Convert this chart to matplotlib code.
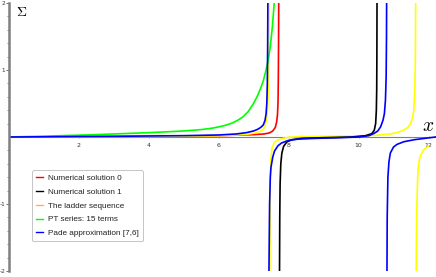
import matplotlib
matplotlib.use("Agg")
import matplotlib.pyplot as plt
from matplotlib.lines import Line2D

plt.rcParams["mathtext.fontset"] = "cm"

# ---- data (x, y samples per branch) ----
red_x = [0, 2, 4, 6, 7, 7.3, 7.45, 7.55, 7.62, 7.66, 7.685, 7.7, 7.71, 7.717, 7.722]
red_y = [0, 0.004, 0.01, 0.02, 0.035, 0.045, 0.06, 0.09, 0.14, 0.22, 0.33, 0.5, 0.9, 1.5, 2.2]

black_x = [7.742, 7.75, 7.76, 7.78, 7.81, 7.86, 7.95, 8.1, 8.4, 9.0, 9.8, 10.2, 10.38, 10.45, 10.49, 10.51, 10.52, 10.525, 10.53]
black_y = [-2.2, -1.2, -0.7, -0.4, -0.24, -0.14, -0.075, -0.04, -0.02, -0.01, 0.0, 0.02, 0.05, 0.1, 0.2, 0.4, 0.7, 1.2, 2.2]

ladder1_x = [0, 2, 4, 5, 6, 6.5, 6.8, 7.0, 7.15, 7.25, 7.32, 7.37, 7.4, 7.43, 7.45, 7.456]
ladder1_y = [0, 0.003, 0.008, 0.012, 0.02, 0.03, 0.04, 0.055, 0.075, 0.1, 0.15, 0.25, 0.4, 0.8, 1.5, 2.2]
ladder2_x = [7.466, 7.472, 7.48, 7.5, 7.53, 7.6, 7.7, 7.85, 8.0, 8.3, 9.0, 10.0, 10.5, 10.9, 11.1, 11.28, 11.4, 11.48, 11.54, 11.58, 11.61, 11.625, 11.635]
ladder2_y = [-2.2, -1.0, -0.6, -0.3, -0.16, -0.08, -0.045, -0.02, -0.005, 0.005, 0.01, 0.015, 0.025, 0.045, 0.065, 0.1, 0.14, 0.19, 0.28, 0.4, 0.7, 1.2, 2.2]
ladder3_x = [11.645, 11.66, 11.69, 11.72, 11.76, 11.85, 11.93, 12.0]
ladder3_y = [-2.2, -1.2, -0.6, -0.4, -0.29, -0.2, -0.16, -0.14]

pt_x = [0, 1, 1.5, 2, 2.5, 3, 3.5, 4, 4.5, 5, 5.5, 5.8, 6, 6.2, 6.4, 6.55, 6.7, 6.85, 7.0, 7.1, 7.2, 7.28, 7.35, 7.42, 7.48, 7.54, 7.6]
pt_y = [0, 0.012, 0.02, 0.027, 0.036, 0.045, 0.055, 0.065, 0.077, 0.09, 0.11, 0.13, 0.15, 0.175, 0.21, 0.25, 0.3, 0.38, 0.5, 0.6, 0.72, 0.84, 0.98, 1.15, 1.35, 1.65, 2.05]

pade1_x = [0, 1, 2, 3, 4, 5, 5.5, 6, 6.5, 6.8, 7.0, 7.1, 7.2, 7.28, 7.33, 7.36, 7.38, 7.395, 7.405, 7.412]
pade1_y = [0, 0.003, 0.007, 0.01, 0.015, 0.02, 0.025, 0.03, 0.045, 0.065, 0.09, 0.11, 0.14, 0.18, 0.25, 0.35, 0.5, 0.8, 1.4, 2.2]
pade2_x = [7.432, 7.445, 7.46, 7.48, 7.5, 7.55, 7.6, 7.7, 7.8, 8.0, 8.3, 8.8, 9.5, 10.0, 10.3, 10.45, 10.55, 10.63, 10.7, 10.74, 10.77, 10.79, 10.8, 10.805]
pade2_y = [-2.5, -1.8, -1.0, -0.6, -0.45, -0.3, -0.21, -0.13, -0.09, -0.05, -0.03, -0.02, -0.01, 0.0, 0.02, 0.055, 0.09, 0.15, 0.25, 0.35, 0.55, 0.9, 1.5, 2.2]
pade3_x = [10.812, 10.82, 10.84, 10.87, 10.91, 11.0, 11.1, 11.3, 11.6, 11.9, 12.2]
pade3_y = [-2.2, -1.2, -0.6, -0.37, -0.24, -0.15, -0.11, -0.07, -0.04, -0.02, 0.0]

labels = ["Numerical solution 0", "Numerical solution 1", "The ladder sequence",
          "PT series: 15 terms", "Pade approximation [7,6]"]
colors = ["#ff0000", "#000000", "#ffff00", "#00ff00", "#0000ff"]
legend_colors = ["#ff0000", "#000000", "#ffb070", "#00ff00", "#0000ff"]
y_ticks = [-2, -1, 1, 2]
y_tick_labels = ["-2", "-1", "1", "2"]
x_ticks = [2, 4, 6, 8, 10, 12]
x_tick_labels = ["2", "4", "6", "8", "10", "12"]

W, H = 436, 277
fig = plt.figure(figsize=(W / 100, H / 100), dpi=100)
px0 = 8.5
scale = 35.0
ax = fig.add_axes([px0 / W, 6 / H, 1 - px0 / W, 268 / H])
ax.set_xlim(0, (W - px0) / scale)
ax.set_ylim(-2, 2)

lw = 1.2
ax.plot(red_x, red_y, color=colors[0], lw=lw)
for xs, ys in [(ladder1_x, ladder1_y), (ladder2_x, ladder2_y), (ladder3_x, ladder3_y)]:
    ax.plot(xs, ys, color=colors[2], lw=lw)
ax.plot(black_x, black_y, color=colors[1], lw=lw)
ax.plot(pt_x, pt_y, color=colors[3], lw=lw)
for xs, ys in [(pade1_x, pade1_y), (pade2_x, pade2_y), (pade3_x, pade3_y)]:
    ax.plot(xs, ys, color=colors[4], lw=lw)

# axes through origin
for s in ["top", "right"]:
    ax.spines[s].set_visible(False)
ax.spines["left"].set_position(("data", 0))
ax.spines["bottom"].set_position(("data", 0))
ax.spines["left"].set_color("#808080")
ax.spines["left"].set_linewidth(1.8)
ax.spines["bottom"].set_color("#808080")
ax.spines["bottom"].set_linewidth(0.8)
ax.spines["bottom"].set_zorder(0.5)

ax.set_yticks(y_ticks)
ax.set_yticklabels(y_tick_labels)
ax.set_yticks([v / 5 for v in range(-10, 11) if v % 5 != 0], minor=True)
ax.tick_params(axis="y", which="major", length=2, width=0.6, color="#555555",
               labelsize=4.2, pad=0.3, labelcolor="#333333")
ax.tick_params(axis="y", which="minor", length=1.5, width=0.5, color="#555555")
ax.set_xticks(x_ticks)
ax.set_xticklabels(x_tick_labels)
ax.tick_params(axis="x", which="major", length=2, width=0.5, color="#888888",
               direction="inout", labelsize=4.5, pad=3.5, labelcolor="#333333")

ax.text(0.2, 1.97, r"$\Sigma$", fontsize=10, ha="left", va="top")
ax.text(12.0, 0.03, r"$x$", fontsize=14, ha="center", va="bottom")

handles = [Line2D([], [], color=c, lw=1.0) for c in legend_colors]
leg = fig.legend(handles, labels, loc="upper left",
                 bbox_to_anchor=(32 / W, 1 - 170 / H),
                 prop={"family": "Liberation Sans", "size": 5.9},
                 handlelength=0.8, handletextpad=0.6, labelspacing=0.75,
                 borderpad=0.5, borderaxespad=0, frameon=True, fancybox=True)
leg.get_frame().set_edgecolor("#aaaaaa")
leg.get_frame().set_linewidth(0.6)
for t in leg.get_texts():
    t.set_color("#222222")

fig.savefig("out.png", dpi=100)
